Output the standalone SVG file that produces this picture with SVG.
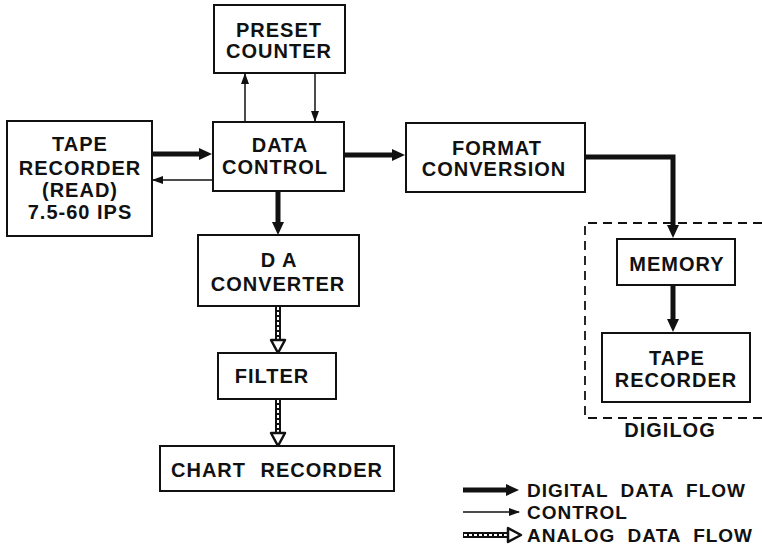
<svg xmlns="http://www.w3.org/2000/svg" width="762" height="552" viewBox="0 0 762 552">
  <style>
    .box { fill: #fff; stroke: #111; stroke-width: 2; }
    .lbl { font-family: "Liberation Sans", Arial, sans-serif; font-weight: bold; font-size: 20px; letter-spacing: 1px; fill: #111; text-anchor: middle; }
    .leg { text-anchor: start; font-size: 19px; }
    .digital { fill: none; stroke: #111; stroke-width: 5; }
    .control { fill: none; stroke: #111; stroke-width: 1.5; }
    .analog { fill: none; stroke: #111; stroke-width: 6; }
    .analog-core { fill: none; stroke: #fff; stroke-width: 2; stroke-dasharray: 3 2; }
    .group { fill: none; stroke: #111; stroke-width: 1.8; stroke-dasharray: 9 6; }
  </style>
  <defs>
    <marker id="headDigital" markerUnits="userSpaceOnUse" viewBox="0 0 13 12" markerWidth="13" markerHeight="12" refX="2" refY="6" orient="auto">
      <path d="M0,0 L13,6 L0,12 z" fill="#111"/>
    </marker>
    <marker id="headControl" markerUnits="userSpaceOnUse" viewBox="0 0 11 8" markerWidth="11" markerHeight="8" refX="10" refY="4" orient="auto">
      <path d="M0,0 L11,4 L0,8 z" fill="#111"/>
    </marker>
  </defs>

  <rect width="762" height="552" fill="#fff"/>

  <!-- connectors -->
  <g id="connectors">
    <!-- digital data flow -->
    <line class="digital" x1="152" y1="154" x2="201" y2="154" marker-end="url(#headDigital)"/>
    <line class="digital" x1="344" y1="155" x2="394" y2="155" marker-end="url(#headDigital)"/>
    <line class="digital" x1="278" y1="191" x2="278" y2="224" marker-end="url(#headDigital)"/>
    <path class="digital" d="M585,157 H673 V227" marker-end="url(#headDigital)"/>
    <line class="digital" x1="673" y1="285" x2="673" y2="321" marker-end="url(#headDigital)"/>
    <!-- control -->
    <line class="control" x1="245" y1="122" x2="245" y2="74" marker-end="url(#headControl)"/>
    <line class="control" x1="315" y1="73" x2="315" y2="121" marker-end="url(#headControl)"/>
    <line class="control" x1="213" y1="180" x2="153" y2="180" marker-end="url(#headControl)"/>
    <!-- analog data flow -->
    <line class="analog" x1="278" y1="306" x2="278" y2="341"/>
    <line class="analog-core" x1="278" y1="307" x2="278" y2="341"/>
    <path d="M271,340 L285,340 L278,353 z" fill="#fff" stroke="#111" stroke-width="2.5" stroke-linejoin="round"/>
    <line class="analog" x1="278" y1="399" x2="278" y2="434"/>
    <line class="analog-core" x1="278" y1="400" x2="278" y2="434"/>
    <path d="M271,433 L285,433 L278,446 z" fill="#fff" stroke="#111" stroke-width="2.5" stroke-linejoin="round"/>
  </g>

  <!-- DIGILOG enclosure -->
  <g id="digilog">
    <path class="group" d="M762,223 H585 V418 H762"/>
    <text class="lbl" x="670" y="437">DIGILOG</text>
  </g>

  <g id="preset-counter">
    <rect class="box" x="214" y="5" width="131" height="68"/>
    <text class="lbl" x="279" y="37">PRESET</text>
    <text class="lbl" x="279" y="58">COUNTER</text>
  </g>

  <g id="tape-recorder-read">
    <rect class="box" x="7" y="121" width="145" height="115"/>
    <text class="lbl" x="80" y="151">TAPE</text>
    <text class="lbl" x="80" y="175">RECORDER</text>
    <text class="lbl" x="80" y="197">(READ)</text>
    <text class="lbl" x="80" y="219">7.5-60 IPS</text>
  </g>

  <g id="data-control">
    <rect class="box" x="213" y="122" width="131" height="69"/>
    <text class="lbl" x="280" y="152">DATA</text>
    <text class="lbl" x="275" y="174">CONTROL</text>
  </g>

  <g id="format-conversion">
    <rect class="box" x="406" y="123" width="179" height="69"/>
    <text class="lbl" x="497" y="155">FORMAT</text>
    <text class="lbl" x="494" y="176">CONVERSION</text>
  </g>

  <g id="da-converter">
    <rect class="box" x="198" y="235" width="161" height="71"/>
    <text class="lbl" x="279" y="267">D A</text>
    <text class="lbl" x="278" y="291">CONVERTER</text>
  </g>

  <g id="filter">
    <rect class="box" x="218" y="353" width="118" height="46"/>
    <text class="lbl" x="272" y="383">FILTER</text>
  </g>

  <g id="chart-recorder">
    <rect class="box" x="160" y="446" width="234" height="45"/>
    <text class="lbl" x="277" y="477" style="word-spacing:8px">CHART RECORDER</text>
  </g>

  <g id="memory">
    <rect class="box" x="617" y="239" width="118" height="46"/>
    <text class="lbl" x="677" y="271">MEMORY</text>
  </g>

  <g id="tape-recorder">
    <rect class="box" x="602" y="333" width="148" height="69"/>
    <text class="lbl" x="677" y="365">TAPE</text>
    <text class="lbl" x="676" y="387">RECORDER</text>
  </g>

  <!-- legend -->
  <g id="legend">
    <line class="digital" x1="463" y1="490" x2="508" y2="490" marker-end="url(#headDigital)"/>
    <text class="lbl leg" x="527" y="497" style="word-spacing:6px">DIGITAL DATA FLOW</text>
    <line class="control" x1="463" y1="512" x2="519" y2="512" marker-end="url(#headControl)"/>
    <text class="lbl leg" x="527" y="519">CONTROL</text>
    <line class="analog" x1="463" y1="535" x2="509" y2="535"/>
    <line class="analog-core" x1="464" y1="535" x2="509" y2="535"/>
    <path d="M508,528 L508,542 L521,535 z" fill="#fff" stroke="#111" stroke-width="2.5" stroke-linejoin="round"/>
    <text class="lbl leg" x="527" y="542" style="word-spacing:6px">ANALOG DATA FLOW</text>
  </g>
</svg>
